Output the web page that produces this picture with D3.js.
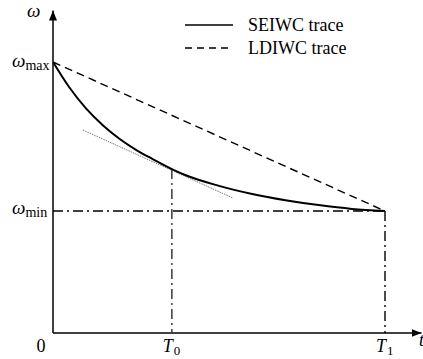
<!DOCTYPE html>
<html><head><meta charset="utf-8">
<script src="https://cdn.jsdelivr.net/npm/d3@7"></script>
<style>body{margin:0;background:#fff}svg{display:block}</style>
</head><body><svg id="c" width="423" height="359"></svg>
<script>
// ---- data ----
const seiwcT = [0, 0.5, 1.0, 1.5, 2.0, 2.5, 3.0, 3.58, 4.0, 5.0, 6.0, 7.0, 8.0, 9.0, 10];
const seiwcW = [1.0, 0.905, 0.828, 0.767, 0.717, 0.676, 0.642, 0.605, 0.582, 0.543, 0.513, 0.490, 0.472, 0.458, 0.45];
const ldiwcT = [0, 10];
const ldiwcW = [1.0, 0.45];
const tangentT = [0.9, 5.42];
const tangentW = [0.749, 0.498];
const wMax = 1.0, wMin = 0.45;
const T0 = 3.58, T1 = 10;
const xTickLabels = [["0", null], ["T", "0"], ["T", "1"]];
const xTickValues = [0, T0, T1];
const legendLabels = ["SEIWC trace", "LDIWC trace"];

const FONT = "Liberation Serif";

// ---- scales ----
const x = d3.scaleLinear().domain([0, 10]).range([53, 385]);
const y = d3.scaleLinear().domain([0, 1]).range([333, 62]);
const xEnd = 11.1, yEnd = 1.19;

const svg = d3.select("#c");
const defs = svg.append("defs");
defs.append("marker").attr("id", "arr").attr("viewBox", "0 0 10 10").attr("refX", 10).attr("refY", 5)
  .attr("markerWidth", 10).attr("markerHeight", 10).attr("markerUnits", "userSpaceOnUse").attr("orient", "auto")
  .append("path").attr("d", "M0,1 L10,5 L0,9 Z").attr("fill", "#000");

svg.append("line").attr("x1", x(0)).attr("y1", y(0)).attr("x2", x(xEnd)).attr("y2", y(0))
  .attr("stroke", "#000").attr("stroke-width", 1.5).attr("marker-end", "url(#arr)");
svg.append("line").attr("x1", x(0)).attr("y1", y(0)).attr("x2", x(0)).attr("y2", y(yEnd))
  .attr("stroke", "#000").attr("stroke-width", 1.5).attr("marker-end", "url(#arr)");

const dashDot = "10,4,2,4";
svg.append("line").attr("x1", x(0)).attr("y1", y(wMin)).attr("x2", x(T1)).attr("y2", y(wMin))
  .attr("stroke", "#000").attr("stroke-width", 1.4).attr("stroke-dasharray", dashDot);
svg.append("line").attr("x1", x(T1)).attr("y1", y(wMin)).attr("x2", x(T1)).attr("y2", y(0))
  .attr("stroke", "#000").attr("stroke-width", 1.4).attr("stroke-dasharray", dashDot);
const w0 = seiwcW[seiwcT.indexOf(T0)];
svg.append("line").attr("x1", x(T0)).attr("y1", y(w0)).attr("x2", x(T0)).attr("y2", y(0))
  .attr("stroke", "#444").attr("stroke-width", 1.6).attr("stroke-dasharray", dashDot);

svg.append("line").attr("x1", x(tangentT[0])).attr("y1", y(tangentW[0])).attr("x2", x(tangentT[1])).attr("y2", y(tangentW[1]))
  .attr("stroke", "#777").attr("stroke-width", 1).attr("stroke-dasharray", "1.5,1");

const line = d3.line().x(d => x(d[0])).y(d => y(d[1]));
svg.append("path").attr("d", line(ldiwcT.map((t, i) => [t, ldiwcW[i]])))
  .attr("fill", "none").attr("stroke", "#000").attr("stroke-width", 1.4).attr("stroke-dasharray", "8,5");
svg.append("path").attr("d", line.curve(d3.curveMonotoneX)(seiwcT.map((t, i) => [t, seiwcW[i]])))
  .attr("fill", "none").attr("stroke", "#000").attr("stroke-width", 2);

function txt(xx, yy, size) {
  return svg.append("text").attr("x", xx).attr("y", yy).attr("font-size", size).attr("font-family", FONT);
}
function omega(yy, sub) {
  const t = txt(12, yy, 19);
  t.append("tspan").attr("font-style", "italic").text("ω");
  t.append("tspan").attr("font-size", 14).attr("dy", 3).text(sub);
}
omega(y(wMax) + 5, "max");
omega(y(wMin) + 3, "min");
txt(27, 17, 19).attr("font-style", "italic").text("ω");

xTickValues.forEach((v, i) => {
  const [main, sub] = xTickLabels[i];
  const px = i === 0 ? 41 : x(v) - 9;
  const t = txt(px, 352, 18);
  if (sub === null) { t.attr("text-anchor", "middle").text(main); }
  else {
    t.append("tspan").attr("font-style", "italic").text(main);
    t.append("tspan").attr("font-size", 13).attr("dy", 3).attr("dx", 1).text(sub);
  }
});
txt(419, 346, 18).attr("font-style", "italic").text("t");

legendLabels.forEach((lab, i) => {
  const ly = 25 + i * 23;
  svg.append("line").attr("x1", 185).attr("x2", 233).attr("y1", ly).attr("y2", ly)
    .attr("stroke", "#000").attr("stroke-width", 1.4).attr("stroke-dasharray", i ? "7,5" : null);
  txt(248, ly + 6, 18).text(lab);
});
</script></body></html>
